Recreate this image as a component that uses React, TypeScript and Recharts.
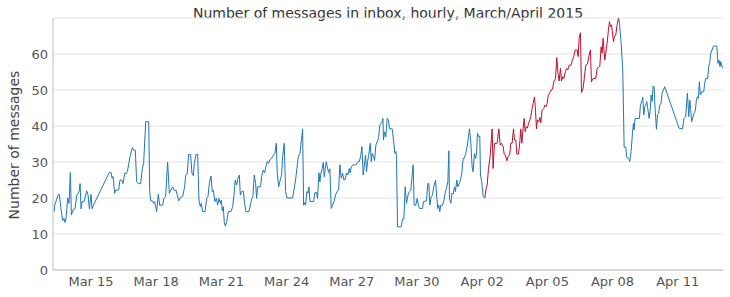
import React from "react";
import { LineChart, Line, XAxis, YAxis, CartesianGrid } from "recharts";

// hour 0 = Mar 13 2015, 00:00; each entry is [hour, messages in inbox]
const mar13to18: [number, number][] = [
  [7.2, 16.2], [7.9, 18], [11.9, 21], [13.0, 21], [14.5, 17.6], [16.7, 13.7], [18.2, 14.3], [19.3, 13.2],
  [20.4, 14.3], [22.2, 20], [23.7, 18.5], [25.2, 27.1], [26.3, 15.3], [28.5, 16.9], [30.3, 17], [32.2, 20.8],
  [33.6, 21.3], [34.8, 21.8], [35.9, 24], [37.0, 17], [38.1, 19], [40.3, 19], [43.2, 22], [44.7, 20.8],
  [46.2, 17], [48.0, 21], [49.1, 17], [50.6, 18], [68.2, 27.1], [70.1, 27.1], [71.2, 25.5], [72.3, 26],
  [74.1, 21.3], [75.2, 22.2], [78.5, 22.2], [80.0, 25], [81.9, 25], [83.3, 24], [85.5, 27], [86.6, 26.7],
  [88.1, 27.3], [91.1, 31.5], [93.6, 34], [95.1, 33.3], [96.9, 33.3], [98.4, 24.5], [100.3, 24], [102.8, 24],
  [104.7, 28.2], [106.1, 29.6], [108.4, 41.2], [111.7, 41.2], [112.8, 21.8], [113.9, 19.2], [115.7, 19.2],
  [117.2, 18.5], [118.3, 19], [119.4, 17.6], [120.5, 16.2], [122.3, 21], [123.8, 18],
];

const mar18to23: [number, number][] = [
  [127.1, 18], [128.6, 20], [130.4, 20.4], [132.6, 30], [134.5, 21.3], [136.3, 22.2], [138.2, 23.1], [140.0, 22],
  [141.8, 22.2], [143.3, 20.8], [144.8, 19.2], [147.0, 20.2], [149.2, 20.4], [151.4, 23.1], [152.5, 26.2],
  [154.3, 26.9], [155.8, 32.1], [158.0, 32.1], [159.5, 26.9], [161.0, 26.2], [162.1, 29.6], [163.9, 32.1],
  [165.8, 32.1], [167.2, 19.4], [168.7, 17.6], [169.8, 18.5], [171.3, 16.2], [173.9, 16.2], [175.7, 19.9],
  [177.2, 20.4], [178.6, 24], [180.5, 26.1], [181.9, 21.8], [183.0, 22.2], [184.9, 19], [186.4, 19.9],
  [187.8, 18], [189.3, 19.9], [190.8, 18.5], [191.9, 19.4], [193.0, 16.4], [194.1, 17.6], [195.2, 13.1],
  [196.3, 12.2], [197.8, 13.4], [199.6, 16.2], [202.6, 16.2], [204.4, 17.6], [205.9, 20.8], [207.3, 25],
  [208.8, 23.6], [210.3, 25.5], [211.8, 26.4], [212.9, 20.8], [214.3, 21.8], [216.2, 21.9], [217.6, 18.5],
  [219.1, 16.2], [222.4, 16.2], [224.3, 18.5], [225.7, 19.9], [226.8, 20.4], [228.3, 26.4], [229.8, 24],
  [230.9, 19.9], [232.0, 23.1], [235.3, 23.1], [236.4, 25.9], [238.3, 27.8], [239.7, 27], [241.2, 28.7],
  [242.7, 30.1], [244.1, 29.6], [245.6, 30.6], [247.4, 31],
];

const mar23to28: [number, number][] = [
  [249.3, 31.8], [251.1, 32.4], [252.6, 35.2], [253.7, 26.9], [255.2, 23.1], [257.0, 25], [258.5, 26.4],
  [259.6, 31.5], [261.4, 35.2], [262.9, 21.8], [264.4, 20], [270.6, 20], [272.1, 22.2], [273.9, 25],
  [275.4, 28.2], [276.9, 31.5], [278.7, 32.4], [280.2, 35.6], [281.7, 39.2], [282.8, 18], [283.9, 18.7],
  [285.0, 18], [286.4, 21.8], [287.6, 21.3], [288.7, 23.1], [289.8, 19], [293.8, 19], [295.3, 21.5],
  [297.1, 21.5], [298.2, 19.9], [299.7, 27], [300.8, 24.5], [301.9, 26.9], [303.4, 28.2], [304.5, 29.9],
  [305.6, 25.9], [306.7, 28.2], [307.8, 30.1], [308.9, 28.7], [310.4, 27.1], [311.8, 28.1], [313.3, 17.1],
  [314.8, 18], [316.3, 19], [318.1, 20.8], [319.6, 21.8], [321.4, 22.2], [322.9, 29.2], [324.4, 25.5],
  [325.8, 26.9], [327.3, 25], [328.8, 25.2], [330.2, 27], [331.7, 26.4], [333.2, 28.2], [334.3, 26.9],
  [335.4, 28.7], [337.6, 29.2], [340.5, 29.2], [342.8, 30.1], [344.2, 30.1], [345.7, 31.5], [347.2, 34.3],
  [348.6, 26.4], [349.7, 28.7], [351.2, 31.9], [352.3, 27.3], [353.4, 30.1], [354.5, 31.5], [356.4, 35.2],
  [357.5, 30.1], [358.6, 32.4], [360.0, 31.5], [361.2, 30.4], [362.6, 34.7], [364.1, 35.6], [365.6, 36.6],
  [367.0, 40.3], [368.9, 40.9], [370.4, 42.1],
];

const mar28toApr02: [number, number][] = [
  [371.0, 36.1], [372.2, 38.4], [373.6, 37], [375.1, 42.1], [376.6, 41.7], [377.7, 39.2], [380.6, 39.2],
  [382.1, 36.1], [383.6, 32.4], [384.7, 32.9], [385.4, 31.5], [386.5, 12], [390.6, 12], [392.0, 14.1],
  [393.5, 14.1], [395.0, 23.1], [396.4, 18.5], [398.3, 21], [399.8, 21.8], [401.2, 22.2], [402.7, 26.4],
  [403.8, 29.2], [404.9, 18], [406.7, 18], [408.2, 19.9], [409.7, 18], [410.8, 17.1], [414.1, 17.1],
  [415.2, 19], [418.5, 19.2], [420.0, 24], [421.1, 24], [422.2, 18], [423.7, 20.4], [425.1, 20.8],
  [426.6, 23.1], [428.5, 25], [429.9, 19.9], [431.0, 17.1], [432.1, 18], [433.2, 16.2], [434.3, 18],
  [436.2, 18], [437.7, 19.4], [439.1, 21.3], [440.6, 22.7], [442.1, 24.5], [443.2, 33.1], [443.9, 19.9],
  [445.4, 18.5], [446.5, 21.3], [448.0, 21.1], [449.4, 23.1], [450.5, 21.8], [452.0, 25], [453.1, 23.1],
  [454.6, 24], [456.1, 25], [457.5, 26.9], [459.0, 31], [460.1, 31], [461.9, 32.4], [463.4, 34.3],
  [464.9, 37], [466.0, 39.2], [467.5, 35.2], [468.9, 28.7], [470.0, 27.3], [471.5, 32.4], [472.6, 31],
  [473.7, 31.9], [474.8, 38], [476.3, 37], [477.4, 37.2], [478.1, 26.4], [479.6, 24.5], [481.1, 20.4],
  [482.9, 20], [484.4, 22.7], [485.5, 23.6], [487.0, 28.2], [488.8, 31.5], [491.0, 39.2], [492.1, 28.2],
];

const apr02to07: [number, number][] = [
  [493.6, 35.2], [496.6, 35.2], [498.4, 39.2], [499.9, 34.7], [501.3, 35.2], [503.2, 34.3], [504.3, 32.2],
  [505.8, 31.9], [507.2, 30.3], [508.7, 31.5], [510.5, 32.2], [511.6, 35.2], [513.1, 35.2], [514.6, 39.2],
  [515.7, 36.1], [517.2, 36.1], [518.3, 32.2], [520.1, 32.2], [521.6, 35.6], [522.7, 39.2], [523.8, 35.2],
  [525.3, 39.4], [526.4, 42.1], [527.5, 38.4], [528.6, 39.8], [530.0, 39.4], [531.2, 40.7], [532.6, 41.7],
  [533.7, 42.6], [535.2, 44.9], [536.3, 46.3], [537.8, 48.1], [538.9, 44.4], [540.0, 39.2], [541.1, 41.7],
  [542.6, 41.2], [543.7, 42.4], [544.8, 40.9], [546.2, 44.4], [548.1, 44.9], [549.2, 45.8], [550.7, 45.4],
  [551.8, 46.3], [552.9, 48.4], [554.7, 49.3], [556.2, 50], [557.7, 50.2], [559.1, 52.3], [561.0, 53.2],
  [562.4, 59], [563.9, 54.2], [565.0, 52.5], [566.5, 56], [567.6, 52.5], [569.1, 53.7], [570.2, 53.2],
  [572.0, 55.1], [573.1, 56], [574.6, 55.6], [576.0, 56.9], [578.3, 56.9], [579.4, 58.1], [581.2, 59.3],
  [582.7, 61.1], [584.9, 61.1], [586.0, 59.3], [587.1, 64.4], [588.6, 65.9], [589.7, 49.3], [591.5, 50.5],
  [593.0, 53.7], [594.4, 56.9], [596.3, 57.2], [597.8, 59.3], [599.6, 61.1], [600.7, 52.3], [602.5, 53.2],
  [605.5, 53.2], [607.0, 56], [608.8, 56.3], [609.9, 56.5], [611.4, 62], [612.5, 60.2], [613.6, 64.4],
  [615.4, 58.3],
];

const apr07to13: [number, number][] = [
  [616.5, 60.2], [618.0, 63], [619.5, 66.7], [620.6, 69], [621.7, 67.6], [622.8, 68.1], [623.9, 66.2],
  [625.0, 63.4], [626.1, 64.8], [627.6, 65.3], [629.0, 68.1], [630.5, 69.9], [631.2, 69.6], [633.1, 64.4],
  [635.3, 55.6], [636.8, 34.1], [638.6, 34.1], [639.7, 31.3], [641.9, 31], [643.0, 30.1], [644.5, 32.9],
  [646.0, 38], [647.1, 40.7], [647.8, 38.9], [648.9, 42.1], [653.7, 42.1], [654.8, 45.8], [656.3, 46.8],
  [657.4, 48], [658.5, 43.1], [659.6, 45.4], [660.7, 45.8], [661.8, 46.8], [662.9, 44.9], [664.4, 42.1],
  [665.5, 44], [666.6, 48.6], [667.7, 46.8], [668.8, 51.1], [669.9, 50.9], [671.0, 44.9], [672.5, 39.1],
  [673.6, 43.1], [675.0, 43.5], [676.1, 45.8], [677.6, 46.3], [678.7, 49.1], [680.2, 50], [681.7, 50.9],
  [697.5, 39.4], [701.2, 39.2], [703.0, 42.1], [704.8, 42.6], [706.7, 49.1], [708.2, 42.6], [709.3, 47.2],
  [710.4, 44.4], [711.5, 41.2], [713.0, 42.6], [714.0, 43.5], [715.5, 44.4], [716.6, 47.2], [717.7, 48.1],
  [718.8, 47.7], [719.9, 52.3], [721.0, 48.6], [722.5, 49.5], [724.7, 49.5], [725.8, 51.9], [726.9, 53.2],
  [729.1, 53.2], [730.2, 56.5], [731.3, 57.4], [732.4, 60.2], [733.9, 61.1], [735.4, 62.2], [739.1, 62.2],
  [740.5, 57.4], [741.6, 58.3], [742.7, 56.5], [743.5, 57.9], [744.9, 56.5], [746.0, 56],
];

// stretch drawn in red
const redFrom = 482.9;
const redTo = 631.2;

const dateTicks = [48, 120, 192, 264, 336, 408, 480, 552, 624, 696];
const countTicks = [0, 10, 20, 30, 40, 50, 60];

const START = Date.UTC(2015, 2, 13);
const MONTHS = ["Jan", "Feb", "Mar", "Apr", "May", "Jun", "Jul", "Aug", "Sep", "Oct", "Nov", "Dec"];
const fmtDate = (h: number) => {
  const d = new Date(START + h * 3600 * 1000);
  return `${MONTHS[d.getUTCMonth()]} ${String(d.getUTCDate()).padStart(2, "0")}`;
};

const rows = [...mar13to18, ...mar18to23, ...mar23to28, ...mar28toApr02, ...apr02to07, ...apr07to13].map(
  ([h, n]) => ({
    h,
    inbox: h <= redFrom || h >= redTo ? n : null,
    busy: h >= redFrom && h <= redTo ? n : null,
  })
);

const FONT = "'DejaVu Sans', sans-serif";
const tickStyle = { fill: "#555", fontSize: 13, fontFamily: FONT };

const App: React.FC = () => {
  return (
    <div style={{ position: "absolute", left: 0, top: 0, width: 730, height: 297, background: "#fff", fontFamily: FONT }}>
      <div
        style={{
          position: "absolute",
          left: 53,
          width: 670,
          top: 5,
          textAlign: "center",
          fontSize: 14,
          lineHeight: "16px",
          color: "#333",
        }}
      >
        Number of messages in inbox, hourly, March/April 2015
      </div>
      <div
        style={{
          position: "absolute",
          left: 14 - 100,
          top: 145 - 8,
          width: 200,
          textAlign: "center",
          fontSize: 14,
          lineHeight: "16px",
          color: "#444",
          transform: "rotate(-90deg)",
        }}
      >
        Number of messages
      </div>
      <LineChart width={730} height={297} data={rows} margin={{ top: 18, right: 7, bottom: 0, left: 0 }}>
        <CartesianGrid vertical={false} stroke="#e3e3e3" />
        <XAxis
          dataKey="h"
          type="number"
          domain={[6, 746]}
          allowDataOverflow
          ticks={dateTicks}
          tickFormatter={fmtDate}
          tick={tickStyle}
          tickLine={false}
          tickSize={0}
          tickMargin={7}
          height={27}
          axisLine={{ stroke: "#bdbdbd" }}
        />
        <YAxis
          type="number"
          domain={[0, 70]}
          ticks={countTicks}
          tick={tickStyle}
          tickLine={false}
          tickSize={0}
          tickMargin={5}
          width={53}
          axisLine={{ stroke: "#bdbdbd" }}
        />
        <Line
          dataKey="inbox"
          stroke="#1f77b4"
          strokeWidth={1}
          dot={false}
          type="linear"
          isAnimationActive={false}
        />
        <Line
          dataKey="busy"
          stroke="#b8102e"
          strokeWidth={1}
          dot={false}
          type="linear"
          isAnimationActive={false}
        />
      </LineChart>
    </div>
  );
};

export default App;
